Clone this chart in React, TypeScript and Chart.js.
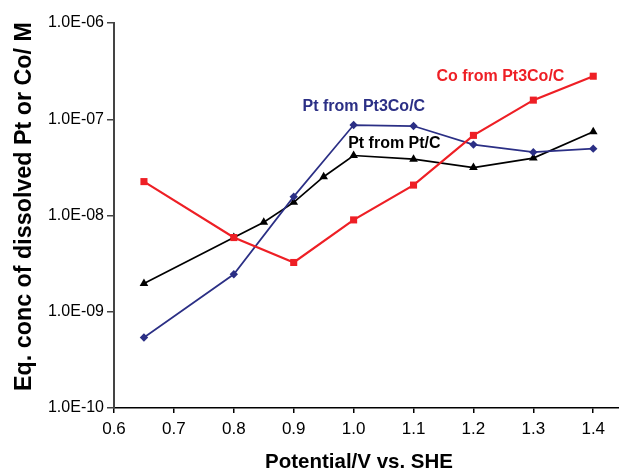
import { useEffect, useRef } from 'react';
import { Chart, registerables } from 'chart.js';

Chart.register(...registerables);

// Potentials (V vs. SHE)
const coPotential = [0.65, 0.8, 0.9, 1.0, 1.1, 1.2, 1.3, 1.4];
const ptPt3CoPotential = [0.65, 0.8, 0.9, 1.0, 1.1, 1.2, 1.3, 1.4];
const ptPtCPotential = [0.65, 0.8, 0.85, 0.9, 0.95, 1.0, 1.1, 1.2, 1.3, 1.4];

// Equilibrium concentrations (M)
const coFromPt3Co = [2.25e-8, 5.9e-9, 3.25e-9, 9.0e-9, 2.07e-8, 6.8e-8, 1.58e-7, 2.8e-7];
const ptFromPt3Co = [5.4e-10, 2.45e-9, 1.57e-8, 8.7e-8, 8.5e-8, 5.45e-8, 4.55e-8, 4.95e-8];
const ptFromPtC = [1.97e-9, 5.9e-9, 8.5e-9, 1.37e-8, 2.53e-8, 4.2e-8, 3.85e-8, 3.15e-8, 3.95e-8, 7.4e-8];

const seriesNames = ['Co from Pt3Co/C', 'Pt from Pt3Co/C', 'Pt from Pt/C'];

const xTicks = [0.6, 0.7, 0.8, 0.9, 1.0, 1.1, 1.2, 1.3, 1.4];
const xTickLabels = ['0.6', '0.7', '0.8', '0.9', '1.0', '1.1', '1.2', '1.3', '1.4'];
const yTicks = [1e-10, 1e-9, 1e-8, 1e-7, 1e-6];
const yTickLabels = ['1.0E-10', '1.0E-09', '1.0E-08', '1.0E-07', '1.0E-06'];

const xTitle = 'Potential/V vs. SHE';
const yTitle = 'Eq. conc of dissolved Pt or Co/ M';

const RED = '#ee1f25';
const BLUE = '#2b2f85';
const BLACK = '#000000';
const FONT = "'Liberation Sans', Arial, sans-serif";

const toPoints = (xs: number[], ys: number[]) => xs.map((x, i) => ({ x, y: ys[i] }));

const labelPlugin = {
  id: 'seriesLabels',
  afterDatasetsDraw(chart: any) {
    const { ctx, scales } = chart;
    const xs = scales.x;
    const ys = scales.y;
    const anchors = [
      { x: 1.245, y: 2.77e-7, color: RED },
      { x: 1.017, y: 1.34e-7, color: BLUE },
      { x: 1.068, y: 5.6e-8, color: BLACK },
    ];
    ctx.save();
    ctx.font = `bold 16px ${FONT}`;
    ctx.textAlign = 'center';
    ctx.textBaseline = 'middle';
    anchors.forEach((a, i) => {
      ctx.fillStyle = a.color;
      ctx.fillText(seriesNames[i], xs.getPixelForValue(a.x), ys.getPixelForValue(a.y));
    });

    // axis titles
    ctx.fillStyle = '#000';
    ctx.font = `bold 20.5px ${FONT}`;
    ctx.fillText(xTitle, 359, 462);
    ctx.save();
    ctx.translate(25, 206.5);
    ctx.rotate(-Math.PI / 2);
    ctx.font = `bold 23.3px ${FONT}`;
    ctx.fillText(yTitle, 0, 0);
    ctx.restore();
    ctx.restore();
  },
};

export default function App() {
  const canvasRef = useRef<HTMLCanvasElement | null>(null);

  useEffect(() => {
    if (!canvasRef.current) return;
    const chart = new Chart(canvasRef.current, {
      type: 'scatter',
      data: {
        datasets: [
          {
            label: seriesNames[0],
            data: toPoints(coPotential, coFromPt3Co),
            showLine: true,
            borderColor: RED,
            backgroundColor: RED,
            borderWidth: 2.2,
            pointStyle: 'rect',
            pointRadius: 5,
            pointBorderWidth: 0,
          },
          {
            label: seriesNames[1],
            data: toPoints(ptPt3CoPotential, ptFromPt3Co),
            showLine: true,
            borderColor: BLUE,
            backgroundColor: BLUE,
            borderWidth: 1.7,
            pointStyle: 'rectRot',
            pointRadius: 4.2,
            pointBorderWidth: 0,
          },
          {
            label: seriesNames[2],
            data: toPoints(ptPtCPotential, ptFromPtC),
            showLine: true,
            borderColor: BLACK,
            backgroundColor: BLACK,
            borderWidth: 1.7,
            pointStyle: 'triangle',
            pointRadius: 5,
            pointBorderWidth: 0,
          },
        ],
      },
      options: {
        responsive: false,
        animation: false,
        devicePixelRatio: 1,
        layout: { autoPadding: false, padding: { top: 23, right: 0, bottom: 0, left: 0 } },
        plugins: {
          legend: { display: false },
          tooltip: { enabled: false },
        },
        scales: {
          x: {
            type: 'linear',
            min: 0.6,
            max: 1.443,
            afterBuildTicks: (scale: any) => {
              scale.ticks = xTicks.map((v) => ({ value: v }));
            },
            afterFit: (scale: any) => {
              scale.height = 68;
              scale.paddingRight = 0;
              scale.paddingLeft = 0;
            },
            ticks: {
              callback: (_v: any, i: number) => xTickLabels[i],
              font: { family: FONT, size: 17 },
              color: '#000',
              padding: 6,
              maxRotation: 0,
            },
            grid: {
              display: true,
              drawOnChartArea: false,
              drawTicks: true,
              tickLength: 5,
              color: '#000',
              lineWidth: 1.5,
            },
            border: { display: true, color: '#000', width: 1.5 },
            title: { display: false },
          },
          y: {
            type: 'logarithmic',
            min: 1e-10,
            max: 1e-6,
            afterBuildTicks: (scale: any) => {
              scale.ticks = yTicks.map((v) => ({ value: v, major: true }));
            },
            afterFit: (scale: any) => {
              scale.width = 114;
            },
            ticks: {
              callback: (_v: any, i: number) => yTickLabels[i],
              font: { family: FONT, size: 16 },
              color: '#000',
              padding: 3,
            },
            grid: {
              display: true,
              drawOnChartArea: false,
              drawTicks: true,
              tickLength: 7,
              color: '#444',
              lineWidth: 1.5,
            },
            border: { display: true, color: '#444', width: 2 },
            title: { display: false },
          },
        },
      },
      plugins: [labelPlugin],
    } as any);
    return () => chart.destroy();
  }, []);

  return (
    <div style={{ position: 'absolute', left: 0, top: 0, width: 619, height: 476, background: '#fff' }}>
      <canvas ref={canvasRef} width={619} height={476} />
    </div>
  );
}
